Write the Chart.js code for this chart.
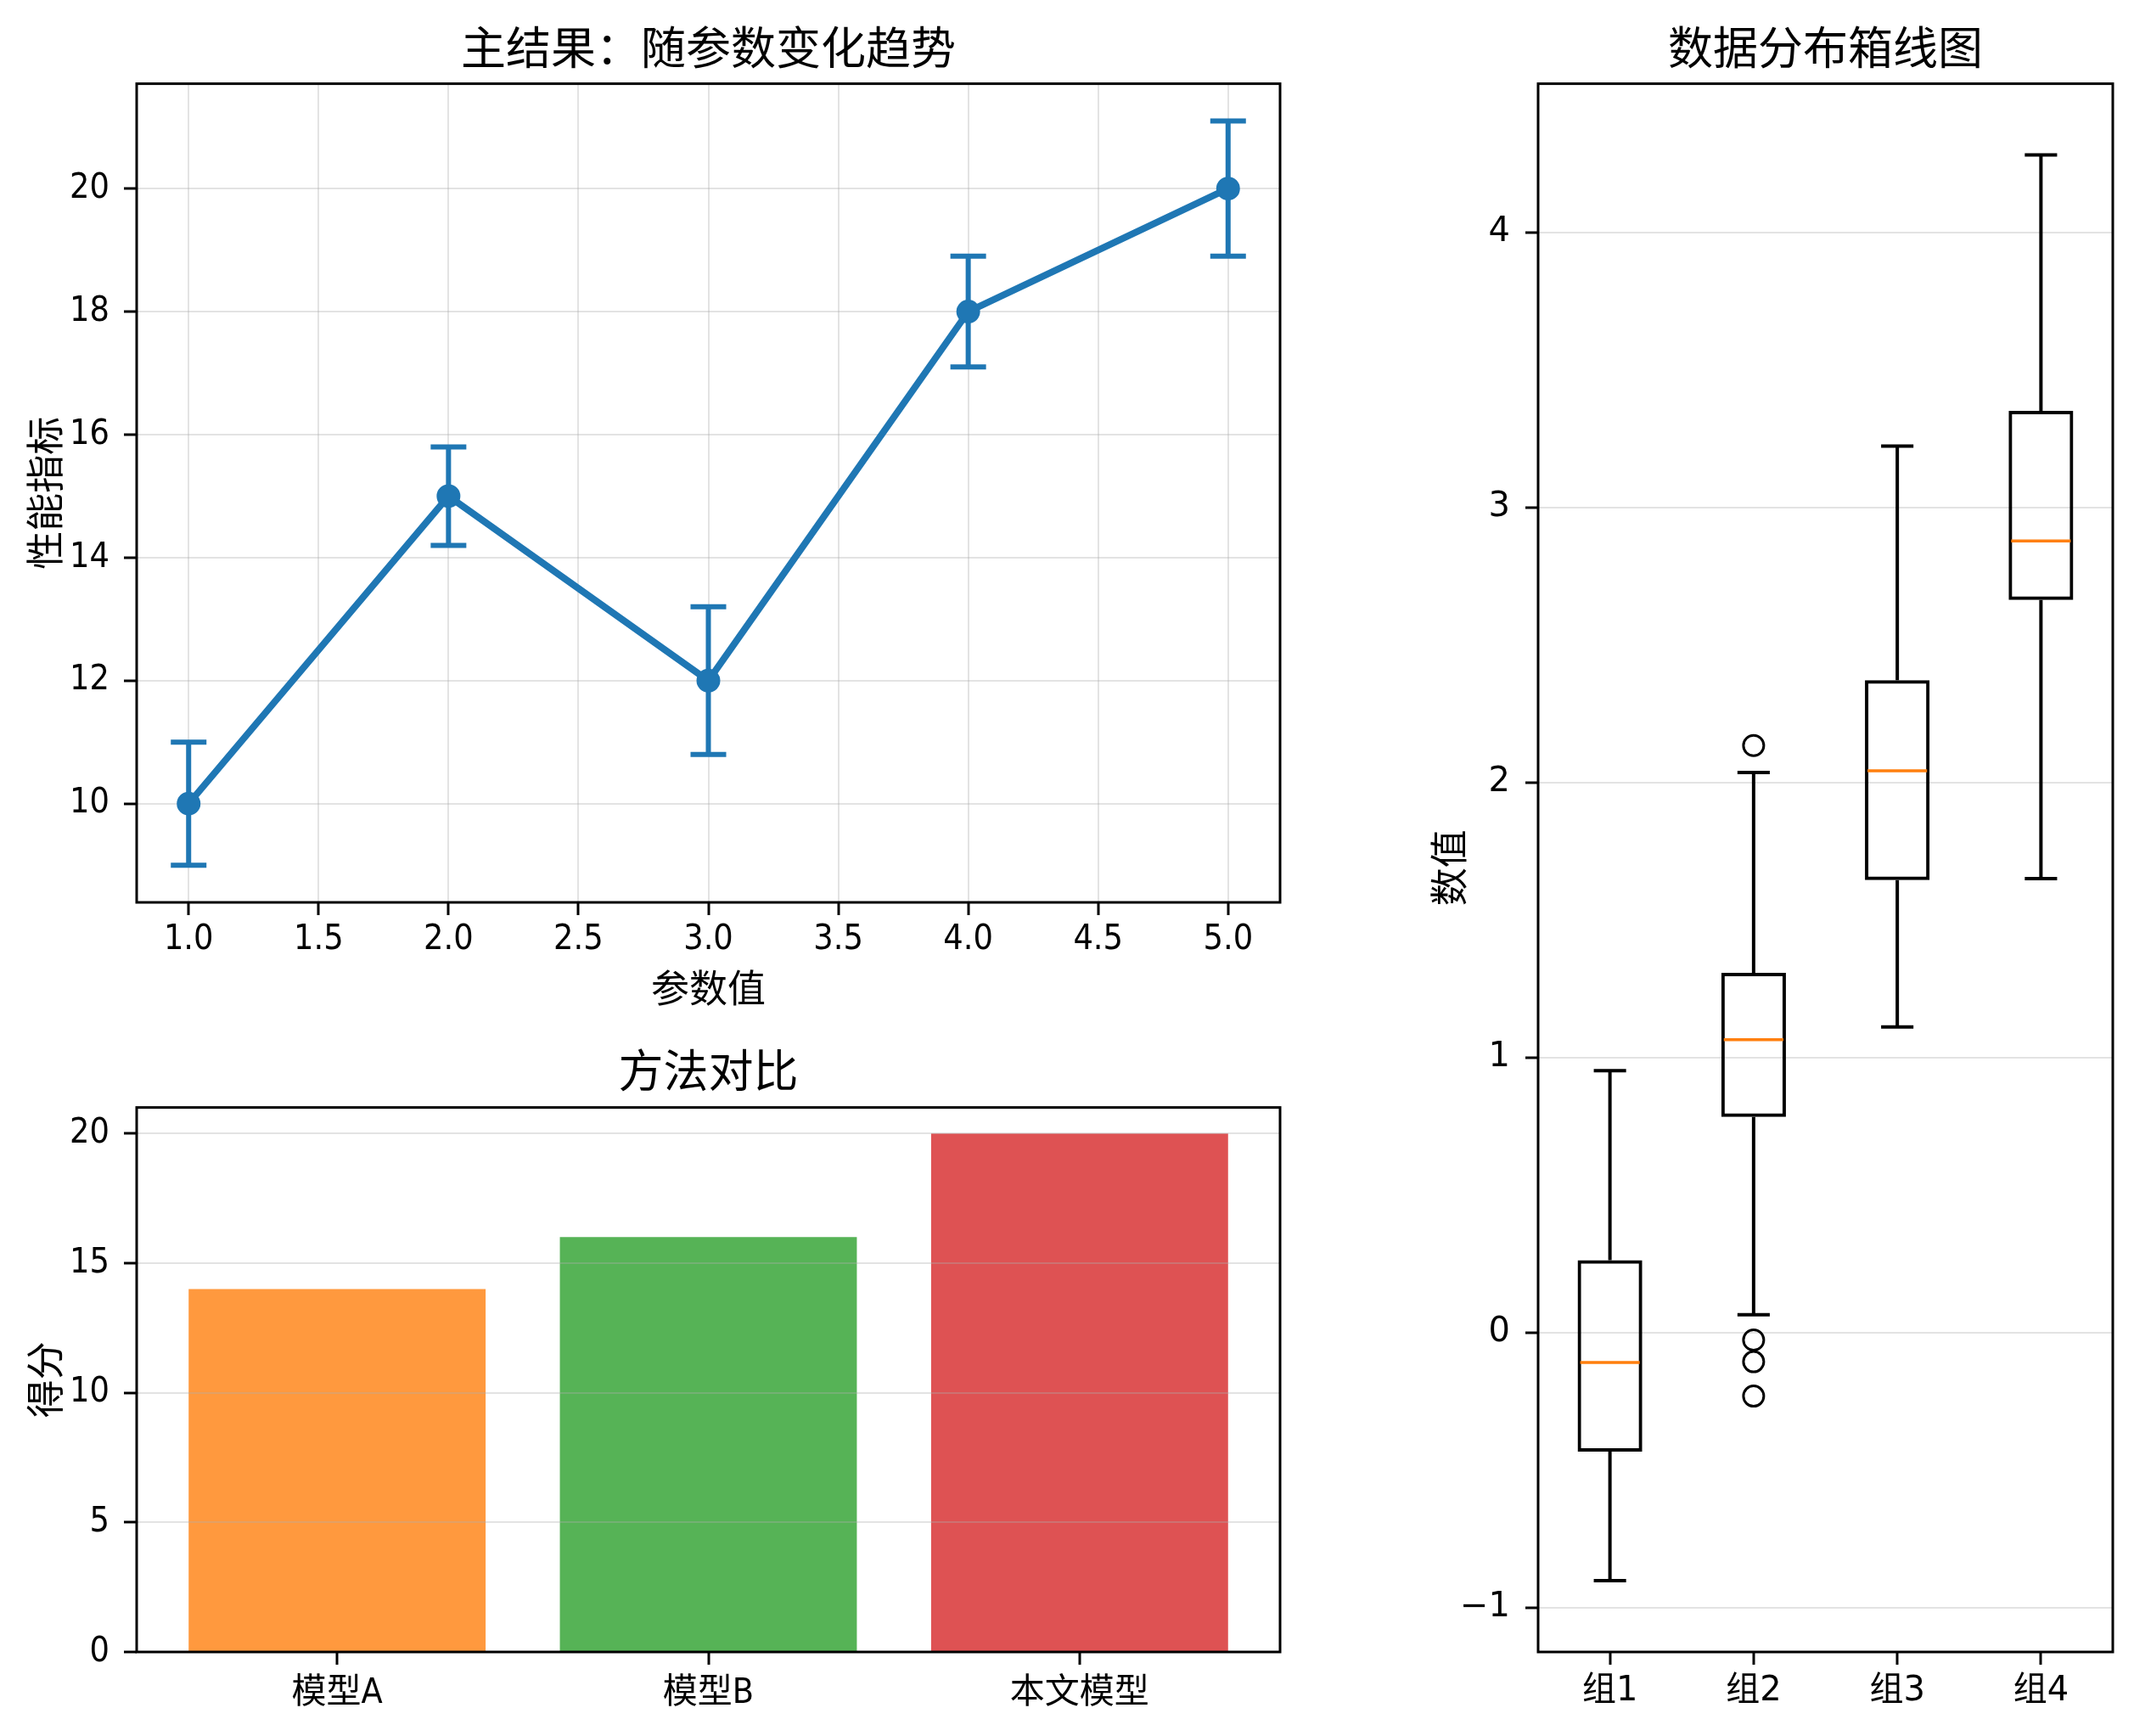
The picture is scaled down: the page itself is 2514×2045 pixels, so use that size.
<!DOCTYPE html>
<html lang="zh">
<head>
<meta charset="UTF-8">
<title>实验结果</title>
<script src="https://cdn.jsdelivr.net/npm/chart.js@4.4.1/dist/chart.umd.min.js"></script>
<style>
  html, body { margin: 0; padding: 0; background: #fff; }
  body { width: 2514px; height: 2045px; position: relative; overflow: hidden; }
  canvas { position: absolute; }
  #lineChart { left: 0; top: 0; }
  #barChart { left: 0; top: 1200px; }
  #boxChart { left: 1560px; top: 0; }
</style>
</head>
<body>
<canvas id="lineChart" width="1530" height="1200"></canvas>
<canvas id="barChart" width="1530" height="845"></canvas>
<canvas id="boxChart" width="954" height="2045"></canvas>
<script>
// main result: mean +- error per parameter value
const paramValues = [1, 2, 3, 4, 5];
const perfMean = [10, 15, 12, 18, 20];
const perfErr = [1.0, 0.8, 1.2, 0.9, 1.1];
const paramTicks = [1, 1.5, 2, 2.5, 3, 3.5, 4, 4.5, 5];
const perfTicks = [10, 12, 14, 16, 18, 20];

// method comparison
const methods = ['模型A', '模型B', '本文模型'];
const methodScores = [14, 16, 20];
const scoreTicks = [0, 5, 10, 15, 20];

// box plot stats per group
const groups = ['组1', '组2', '组3', '组4'];
const whiskerLow = [-0.901, 0.066, 1.112, 1.651];
const boxQ1 = [-0.432, 0.785, 1.646, 2.664];
const boxMedian = [-0.108, 1.066, 2.043, 2.879];
const boxQ3 = [0.264, 1.309, 2.373, 3.352];
const whiskerHigh = [0.953, 2.037, 3.224, 4.282];
const outliers = [[], [2.135, -0.026, -0.105, -0.230], [], []];
const valueTicks = [-1, 0, 1, 2, 3, 4];

const CJK = '"Noto Sans CJK SC", sans-serif';
const NARROW = '"Liberation Sans Narrow", "DejaVu Sans Condensed", "Noto Sans CJK SC", sans-serif';
const DEJAVU = '"DejaVu Sans", "Noto Sans CJK SC", sans-serif';
const GRID = 'rgba(176,176,176,0.35)';
const BLUE = '#1f77b4';

Chart.defaults.color = '#000';
Chart.defaults.animation = false;
Chart.defaults.plugins.legend.display = false;
Chart.defaults.plugins.tooltip.enabled = false;

function fixedTicks(list) { return scale => { scale.ticks = list.map(v => ({value: v})); }; }
function fixWidth(w) { return scale => { scale.width = w; }; }
function fixHeight(h) { return scale => { scale.height = h; }; }
function padRange(lo, hi) { const p = (hi - lo) * 0.05; return [lo - p, hi + p]; }

const frame = {
    id: 'frame',
    afterDraw(chart) {
        const a = chart.chartArea, ctx = chart.ctx;
        ctx.save();
        ctx.strokeStyle = '#000';
        ctx.lineWidth = 3;
        ctx.strokeRect(a.left, a.top, a.right - a.left, a.bottom - a.top);
        ctx.restore();
    }
};

function tickGrid(color, extra) {
    return Object.assign({color: color, lineWidth: 2, tickColor: '#000', tickWidth: 3, tickLength: 15}, extra || {});
}

function chartTitle(text, top, bottom) {
    return {display: true, fullSize: false, text: text,
            font: {family: CJK, size: 53, weight: 'normal'}, padding: {top: top, bottom: bottom}};
}

// ---------- line chart with error bars ----------
const errorBars = {
    id: 'errorBars',
    beforeDatasetsDraw(chart) {
        const {ctx, scales: {x, y}} = chart;
        ctx.save();
        ctx.strokeStyle = BLUE;
        ctx.lineWidth = 6;
        paramValues.forEach((v, i) => {
            const px = x.getPixelForValue(v);
            const top = y.getPixelForValue(perfMean[i] + perfErr[i]);
            const bot = y.getPixelForValue(perfMean[i] - perfErr[i]);
            ctx.beginPath();
            ctx.moveTo(px, top); ctx.lineTo(px, bot);
            ctx.moveTo(px - 21, top); ctx.lineTo(px + 21, top);
            ctx.moveTo(px - 21, bot); ctx.lineTo(px + 21, bot);
            ctx.stroke();
        });
        ctx.restore();
    }
};

const xRange = padRange(Math.min(...paramValues), Math.max(...paramValues));
const yRange = padRange(Math.min(...perfMean.map((m, i) => m - perfErr[i])),
                        Math.max(...perfMean.map((m, i) => m + perfErr[i])));

new Chart(document.getElementById('lineChart'), {
    type: 'line',
    data: {
        datasets: [{
            data: paramValues.map((x, i) => ({x: x, y: perfMean[i]})),
            borderColor: BLUE,
            borderWidth: 8,
            pointRadius: 13,
            pointBackgroundColor: BLUE,
            pointBorderColor: BLUE,
            pointBorderWidth: 2,
            tension: 0
        }]
    },
    options: {
        responsive: false,
        devicePixelRatio: 1,
        layout: {padding: {left: 0, right: 22, top: 0, bottom: 0}, autoPadding: false},
        plugins: {title: chartTitle('主结果：随参数变化趋势', 24, 11)},
        scales: {
            x: {
                type: 'linear', min: xRange[0], max: xRange[1],
                afterBuildTicks: fixedTicks(paramTicks),
                afterFit: fixHeight(137),
                grid: tickGrid(GRID),
                border: {display: false},
                ticks: {font: {family: NARROW, size: 41}, padding: 5, maxRotation: 0, autoSkip: false,
                        callback: v => v.toFixed(1)},
                title: {display: true, text: '参数值', font: {family: CJK, size: 45}, padding: {top: 0, bottom: 9}}
            },
            y: {
                min: yRange[0], max: yRange[1],
                afterBuildTicks: fixedTicks(perfTicks),
                afterFit: fixWidth(161),
                grid: tickGrid(GRID),
                border: {display: false},
                ticks: {font: {family: NARROW, size: 41}, padding: 17, autoSkip: false, callback: v => String(v)},
                title: {display: true, text: '性能指标', font: {family: CJK, size: 45}, padding: {top: 26, bottom: 0}}
            }
        }
    },
    plugins: [errorBars, frame]
});

// ---------- bar chart ----------
new Chart(document.getElementById('barChart'), {
    type: 'bar',
    data: {
        datasets: [{
            data: methodScores.map((s, i) => ({x: i, y: s})),
            backgroundColor: ['rgba(255,127,14,0.8)', 'rgba(44,160,44,0.8)', 'rgba(214,39,40,0.8)'],
            borderWidth: 0,
            barPercentage: 0.8,
            categoryPercentage: 1.0
        }]
    },
    options: {
        responsive: false,
        devicePixelRatio: 1,
        layout: {padding: {left: 0, right: 22, top: 0, bottom: 0}, autoPadding: false},
        plugins: {title: chartTitle('方法对比', 29, 12)},
        scales: {
            x: {
                type: 'linear', offset: false,
                min: -0.4 - 0.05 * 2.8, max: methods.length - 1 + 0.4 + 0.05 * 2.8,
                afterBuildTicks: fixedTicks(methods.map((m, i) => i)),
                afterFit: fixHeight(99),
                grid: tickGrid('rgba(0,0,0,0)', {offset: false}),
                border: {display: false},
                ticks: {font: {family: NARROW, size: 41}, padding: 10, maxRotation: 0, autoSkip: false,
                        callback: v => methods[v]}
            },
            y: {
                min: 0, max: Math.max(...methodScores) * 1.05,
                afterBuildTicks: fixedTicks(scoreTicks),
                afterFit: fixWidth(161),
                grid: tickGrid(GRID, {z: 1}),
                border: {display: false},
                ticks: {font: {family: NARROW, size: 41}, padding: 17, autoSkip: false, callback: v => String(v)},
                title: {display: true, text: '得分', font: {family: CJK, size: 45}, padding: {top: 26, bottom: 0}}
            }
        }
    },
    plugins: [frame]
});

// ---------- box plot ----------
const BOX_W = 0.45;
const boxParts = {
    id: 'boxParts',
    afterDatasetsDraw(chart) {
        const {ctx, scales: {x, y}} = chart;
        ctx.save();
        groups.forEach((g, i) => {
            const pos = i + 1;
            const cx = x.getPixelForValue(pos);
            const capL = x.getPixelForValue(pos - BOX_W / 4), capR = x.getPixelForValue(pos + BOX_W / 4);
            ctx.strokeStyle = '#000';
            ctx.lineWidth = 4;
            ctx.beginPath();
            ctx.moveTo(cx, y.getPixelForValue(boxQ3[i])); ctx.lineTo(cx, y.getPixelForValue(whiskerHigh[i]));
            ctx.moveTo(cx, y.getPixelForValue(boxQ1[i])); ctx.lineTo(cx, y.getPixelForValue(whiskerLow[i]));
            ctx.moveTo(capL, y.getPixelForValue(whiskerHigh[i])); ctx.lineTo(capR, y.getPixelForValue(whiskerHigh[i]));
            ctx.moveTo(capL, y.getPixelForValue(whiskerLow[i])); ctx.lineTo(capR, y.getPixelForValue(whiskerLow[i]));
            ctx.stroke();
            ctx.strokeStyle = '#ff7f0e';
            ctx.lineWidth = 3.5;
            ctx.beginPath();
            ctx.moveTo(x.getPixelForValue(pos - BOX_W / 2) + 3, y.getPixelForValue(boxMedian[i]));
            ctx.lineTo(x.getPixelForValue(pos + BOX_W / 2) - 3, y.getPixelForValue(boxMedian[i]));
            ctx.stroke();
        });
        ctx.restore();
    }
};

const allValues = whiskerLow.concat(whiskerHigh, outliers.flat());
const vRange = padRange(Math.min(...allValues), Math.max(...allValues));

new Chart(document.getElementById('boxChart'), {
    type: 'bar',
    data: {
        datasets: [{
            data: groups.map((g, i) => ({x: i + 1, y: [boxQ1[i], boxQ3[i]]})),
            backgroundColor: 'rgba(0,0,0,0)',
            borderColor: '#000',
            borderWidth: 4,
            borderSkipped: false,
            barPercentage: BOX_W,
            categoryPercentage: 1.0
        }, {
            type: 'scatter',
            data: groups.flatMap((g, i) => outliers[i].map(v => ({x: i + 1, y: v}))),
            pointRadius: 12,
            pointBorderWidth: 3,
            pointBorderColor: '#000',
            pointBackgroundColor: 'rgba(0,0,0,0)'
        }]
    },
    options: {
        responsive: false,
        devicePixelRatio: 1,
        layout: {padding: {left: 0, right: 25, top: 0, bottom: 0}, autoPadding: false},
        plugins: {title: chartTitle('数据分布箱线图', 24, 11)},
        scales: {
            x: {
                type: 'linear', offset: false, min: 0.5, max: groups.length + 0.5,
                afterBuildTicks: fixedTicks(groups.map((g, i) => i + 1)),
                afterFit: fixHeight(99),
                grid: tickGrid('rgba(0,0,0,0)', {offset: false}),
                border: {display: false},
                ticks: {font: {family: DEJAVU, size: 40}, padding: 8, maxRotation: 0, autoSkip: false,
                        callback: v => groups[v - 1]}
            },
            y: {
                min: vRange[0], max: vRange[1],
                afterBuildTicks: fixedTicks(valueTicks),
                afterFit: fixWidth(252),
                grid: tickGrid(GRID),
                border: {display: false},
                ticks: {font: {family: DEJAVU, size: 40}, padding: 18, autoSkip: false,
                        callback: v => v < 0 ? '\u2212' + Math.abs(v) : String(v)},
                title: {display: true, text: '数值', font: {family: CJK, size: 45}, padding: {top: 120, bottom: 0}}
            }
        }
    },
    plugins: [boxParts, frame]
});
</script>
</body>
</html>
